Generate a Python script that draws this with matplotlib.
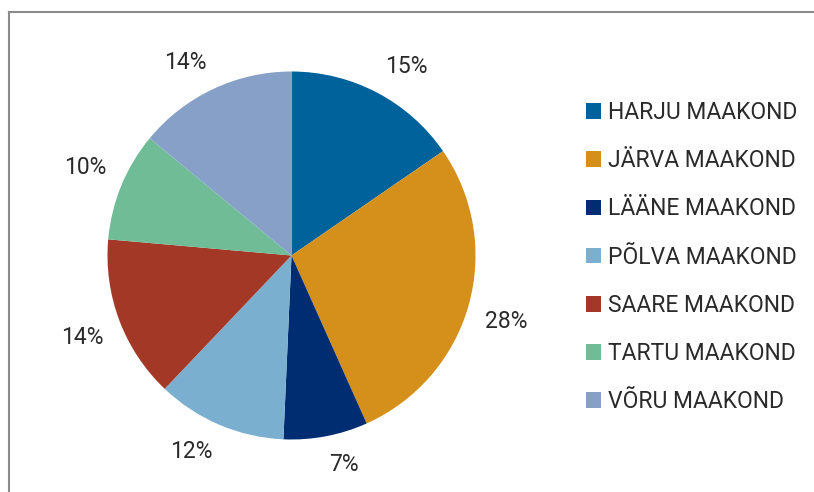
import numpy as np
import matplotlib.pyplot as plt
from matplotlib.lines import Line2D
from matplotlib.patches import Patch

regions = ['HARJU MAAKOND', 'JÄRVA MAAKOND', 'LÄÄNE MAAKOND', 'PÕLVA MAAKOND',
           'SAARE MAAKOND', 'TARTU MAAKOND', 'VÕRU MAAKOND']
# slice sizes as measured from the wedge angles, and the labels as printed
shares = [15.4, 27.9, 7.4, 11.4, 14.3, 9.6, 14.0]
pct_labels = ['15%', '28%', '7%', '12%', '14%', '10%', '14%']
colors = ['#00629b', '#d5901b', '#002d72', '#7bafd0', '#a33826', '#6fbc97', '#87a0c8']

plt.rcParams['font.family'] = ['Roboto', 'DejaVu Sans']

W, H = 814, 492
fig = plt.figure(figsize=(W / 100, H / 100), dpi=100, facecolor='white')

# pie centre (291.5, 255.5) px, radius 184 px
cx, cy, r = 291.5, 255.5, 184
k = 1.35
ax = fig.add_axes([(cx - r * k) / W, (H - cy - r * k) / H, 2 * r * k / W, 2 * r * k / H])
ax.set_xlim(-k, k)
ax.set_ylim(-k, k)

wedges, _ = ax.pie(shares, colors=colors, startangle=90, counterclock=False,
                   radius=1, frame=True, wedgeprops=dict(linewidth=0))
ax.axis('off')

# outside-end labels, box corner anchored just beyond the rim
tot = sum(shares)
cum = np.cumsum([0] + shares)
for i, lab in enumerate(pct_labels):
    th = np.deg2rad((cum[i] + cum[i + 1]) / 2 / tot * 360)
    sx, sy = np.sin(th), np.cos(th)
    ax.text(1.09 * sx, 1.09 * sy, lab, fontsize=16.5, color='#2a2a2a',
            ha='left' if sx > 0 else 'right', va='bottom' if sy > 0 else 'top')

handles = [Patch(facecolor=c, edgecolor='none') for c in colors]
fig.legend(handles, regions, loc='upper left', bbox_to_anchor=(586 / W, 1 - 101 / H),
           frameon=False, handlelength=0.66, handleheight=0.66,
           handletextpad=0.3, labelspacing=1.1, borderaxespad=0, borderpad=0,
           prop=dict(size=16.5), labelcolor='#2a2a2a')

# frame lines
fig.add_artist(Line2D([9 / W, 9 / W], [0, 1 - 11.5 / H], color='#8c8c8c', lw=1.5))
fig.add_artist(Line2D([9 / W, 1], [1 - 11.5 / H, 1 - 11.5 / H], color='#8c8c8c', lw=1.5))

fig.savefig('out.png', dpi=100, facecolor='white')
